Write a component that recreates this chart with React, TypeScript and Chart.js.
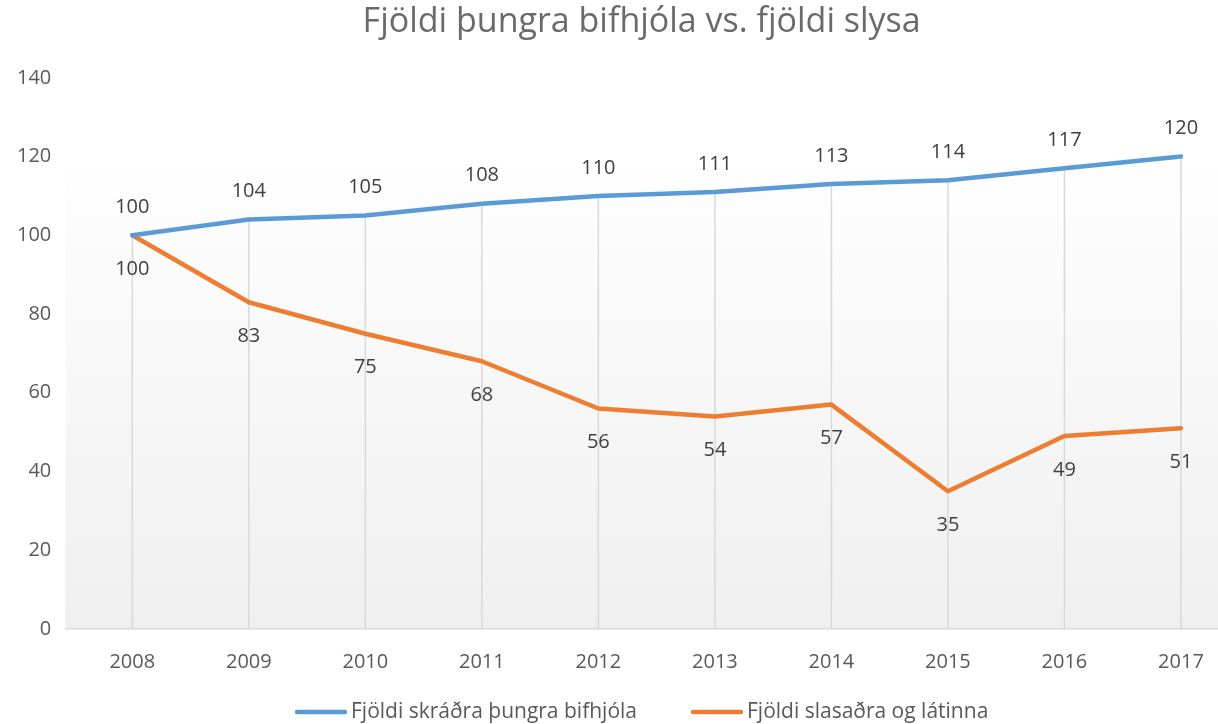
import React, { useEffect, useRef } from "react";
import { Chart, registerables } from "chart.js";

Chart.register(...registerables);

const years = [2008, 2009, 2010, 2011, 2012, 2013, 2014, 2015, 2016, 2017];
const heavyBikes = [100, 104, 105, 108, 110, 111, 113, 114, 117, 120];
const casualties = [100, 83, 75, 68, 56, 54, 57, 35, 49, 51];
const yTicks = [0, 20, 40, 60, 80, 100, 120, 140];

const seriesNames = ["Fjöldi skráðra þungra bifhjóla", "Fjöldi slasaðra og látinna"];
const seriesColors = ["#5b9bd5", "#ed7d31"];
const titleText = "Fjöldi þungra bifhjóla vs. fjöldi slysa";

const FONT = "'Open Sans', 'Noto Sans', sans-serif";

const backgroundPlugin = {
  id: "plotBackground",
  beforeDraw(chart: any) {
    const { ctx, chartArea, scales } = chart;
    const top = scales.y.getPixelForValue(122);
    const bottom = chartArea.bottom;
    const g = ctx.createLinearGradient(0, top, 0, bottom);
    g.addColorStop(0, "#ffffff");
    g.addColorStop(1, "#efefef");
    ctx.save();
    ctx.fillStyle = g;
    ctx.fillRect(chartArea.left, top, chartArea.right - chartArea.left, bottom - top);
    ctx.restore();
  },
};

const dropLinesPlugin = {
  id: "dropLines",
  beforeDatasetsDraw(chart: any) {
    const { ctx, scales } = chart;
    const bottom = scales.y.getPixelForValue(0);
    ctx.save();
    ctx.strokeStyle = "#d9d9d9";
    ctx.lineWidth = 1.5;
    years.forEach((yr, i) => {
      const maxV = Math.max(heavyBikes[i], casualties[i]);
      const x = scales.x.getPixelForValue(yr);
      const top = scales.y.getPixelForValue(maxV);
      ctx.beginPath();
      ctx.moveTo(x, top);
      ctx.lineTo(x, bottom);
      ctx.stroke();
    });
    ctx.restore();
  },
};

const dataLabelsPlugin = {
  id: "dataLabels",
  afterDatasetsDraw(chart: any) {
    const { ctx } = chart;
    ctx.save();
    ctx.font = `20px ${FONT}`;
    ctx.fillStyle = "#404040";
    ctx.textAlign = "center";
    ctx.textBaseline = "middle";
    chart.data.datasets.forEach((ds: any, di: number) => {
      const meta = chart.getDatasetMeta(di);
      meta.data.forEach((pt: any, i: number) => {
        const v = ds.data[i].y;
        const dy = di === 0 ? -28 : 34;
        ctx.fillText(String(v), pt.x, pt.y + dy);
      });
    });
    ctx.restore();
  },
};

const customLegendPlugin = {
  id: "customLegend",
  afterDraw(chart: any) {
    const { ctx, chartArea, height } = chart;
    const lineW = 52;
    const gapText = 4;
    const gapItem = 54;
    ctx.save();
    ctx.font = `21px ${FONT}`;
    ctx.textBaseline = "middle";
    ctx.textAlign = "left";
    const widths = chart.data.datasets.map((ds: any) => ctx.measureText(ds.label).width);
    const total =
      widths.reduce((a: number, w: number) => a + lineW + gapText + w, 0) + gapItem * (widths.length - 1);
    let x = (chartArea.left + chartArea.right) / 2 - total / 2;
    const y = height - 12;
    chart.data.datasets.forEach((ds: any, i: number) => {
      ctx.strokeStyle = seriesColors[i];
      ctx.lineWidth = 4.5;
      ctx.lineCap = "round";
      ctx.beginPath();
      ctx.moveTo(x + 2, y);
      ctx.lineTo(x + lineW - 2, y);
      ctx.stroke();
      ctx.fillStyle = "#595959";
      ctx.fillText(ds.label, x + lineW + gapText, y);
      x += lineW + gapText + widths[i] + gapItem;
    });
    ctx.restore();
  },
};

export default function App() {
  const canvasRef = useRef<HTMLCanvasElement | null>(null);

  useEffect(() => {
    if (!canvasRef.current) return;
    const chart = new Chart(canvasRef.current, {
      type: "line",
      data: {
        datasets: [
          {
            label: seriesNames[0],
            data: years.map((x, i) => ({ x, y: heavyBikes[i] })),
            borderColor: seriesColors[0],
            backgroundColor: seriesColors[0],
            borderWidth: 4.5,
            borderCapStyle: "round",
            borderJoinStyle: "round",
            pointRadius: 0,
            tension: 0,
          },
          {
            label: seriesNames[1],
            data: years.map((x, i) => ({ x, y: casualties[i] })),
            borderColor: seriesColors[1],
            backgroundColor: seriesColors[1],
            borderWidth: 4.5,
            borderCapStyle: "round",
            borderJoinStyle: "round",
            pointRadius: 0,
            tension: 0,
          },
        ],
      },
      options: {
        animation: false,
        responsive: false,
        maintainAspectRatio: false,
        layout: { padding: { left: 11, right: 0, top: 0, bottom: 37 } },
        plugins: {
          title: {
            display: true,
            text: titleText,
            fullSize: false,
            color: "#6a6a6a",
            font: { family: FONT, size: 34, weight: "normal" },
            padding: { top: 2, bottom: 35 },
          },
          legend: { display: false },
          tooltip: { enabled: false },
        },
        scales: {
          x: {
            type: "linear",
            min: 2007.425,
            max: 2017.318,
            afterBuildTicks: (scale: any) => {
              scale.ticks = years.map((v) => ({ value: v }));
            },
            ticks: {
              color: "#595959",
              font: { family: FONT, size: 20 },
              padding: 13,
              maxRotation: 0,
              autoSkip: false,
              callback: (v: any) => String(v),
            },
            grid: { display: false },
            border: { display: true, color: "#d9d9d9", width: 1.5 },
          },
          y: {
            min: 0,
            max: 140,
            afterBuildTicks: (scale: any) => {
              scale.ticks = yTicks.map((v) => ({ value: v }));
            },
            ticks: {
              color: "#595959",
              font: { family: FONT, size: 20 },
              padding: 6,
              callback: (v: any) => String(v),
            },
            grid: { display: false },
            border: { display: false },
          },
        },
      },
      plugins: [backgroundPlugin, dropLinesPlugin, dataLabelsPlugin, customLegendPlugin],
    });
    return () => chart.destroy();
  }, []);

  return (
    <div style={{ position: "fixed", left: 0, top: 0, width: 1218, height: 724, background: "#ffffff" }}>
      <canvas ref={canvasRef} width={1218} height={724} style={{ width: 1218, height: 724, display: "block" }} />
    </div>
  );
}
